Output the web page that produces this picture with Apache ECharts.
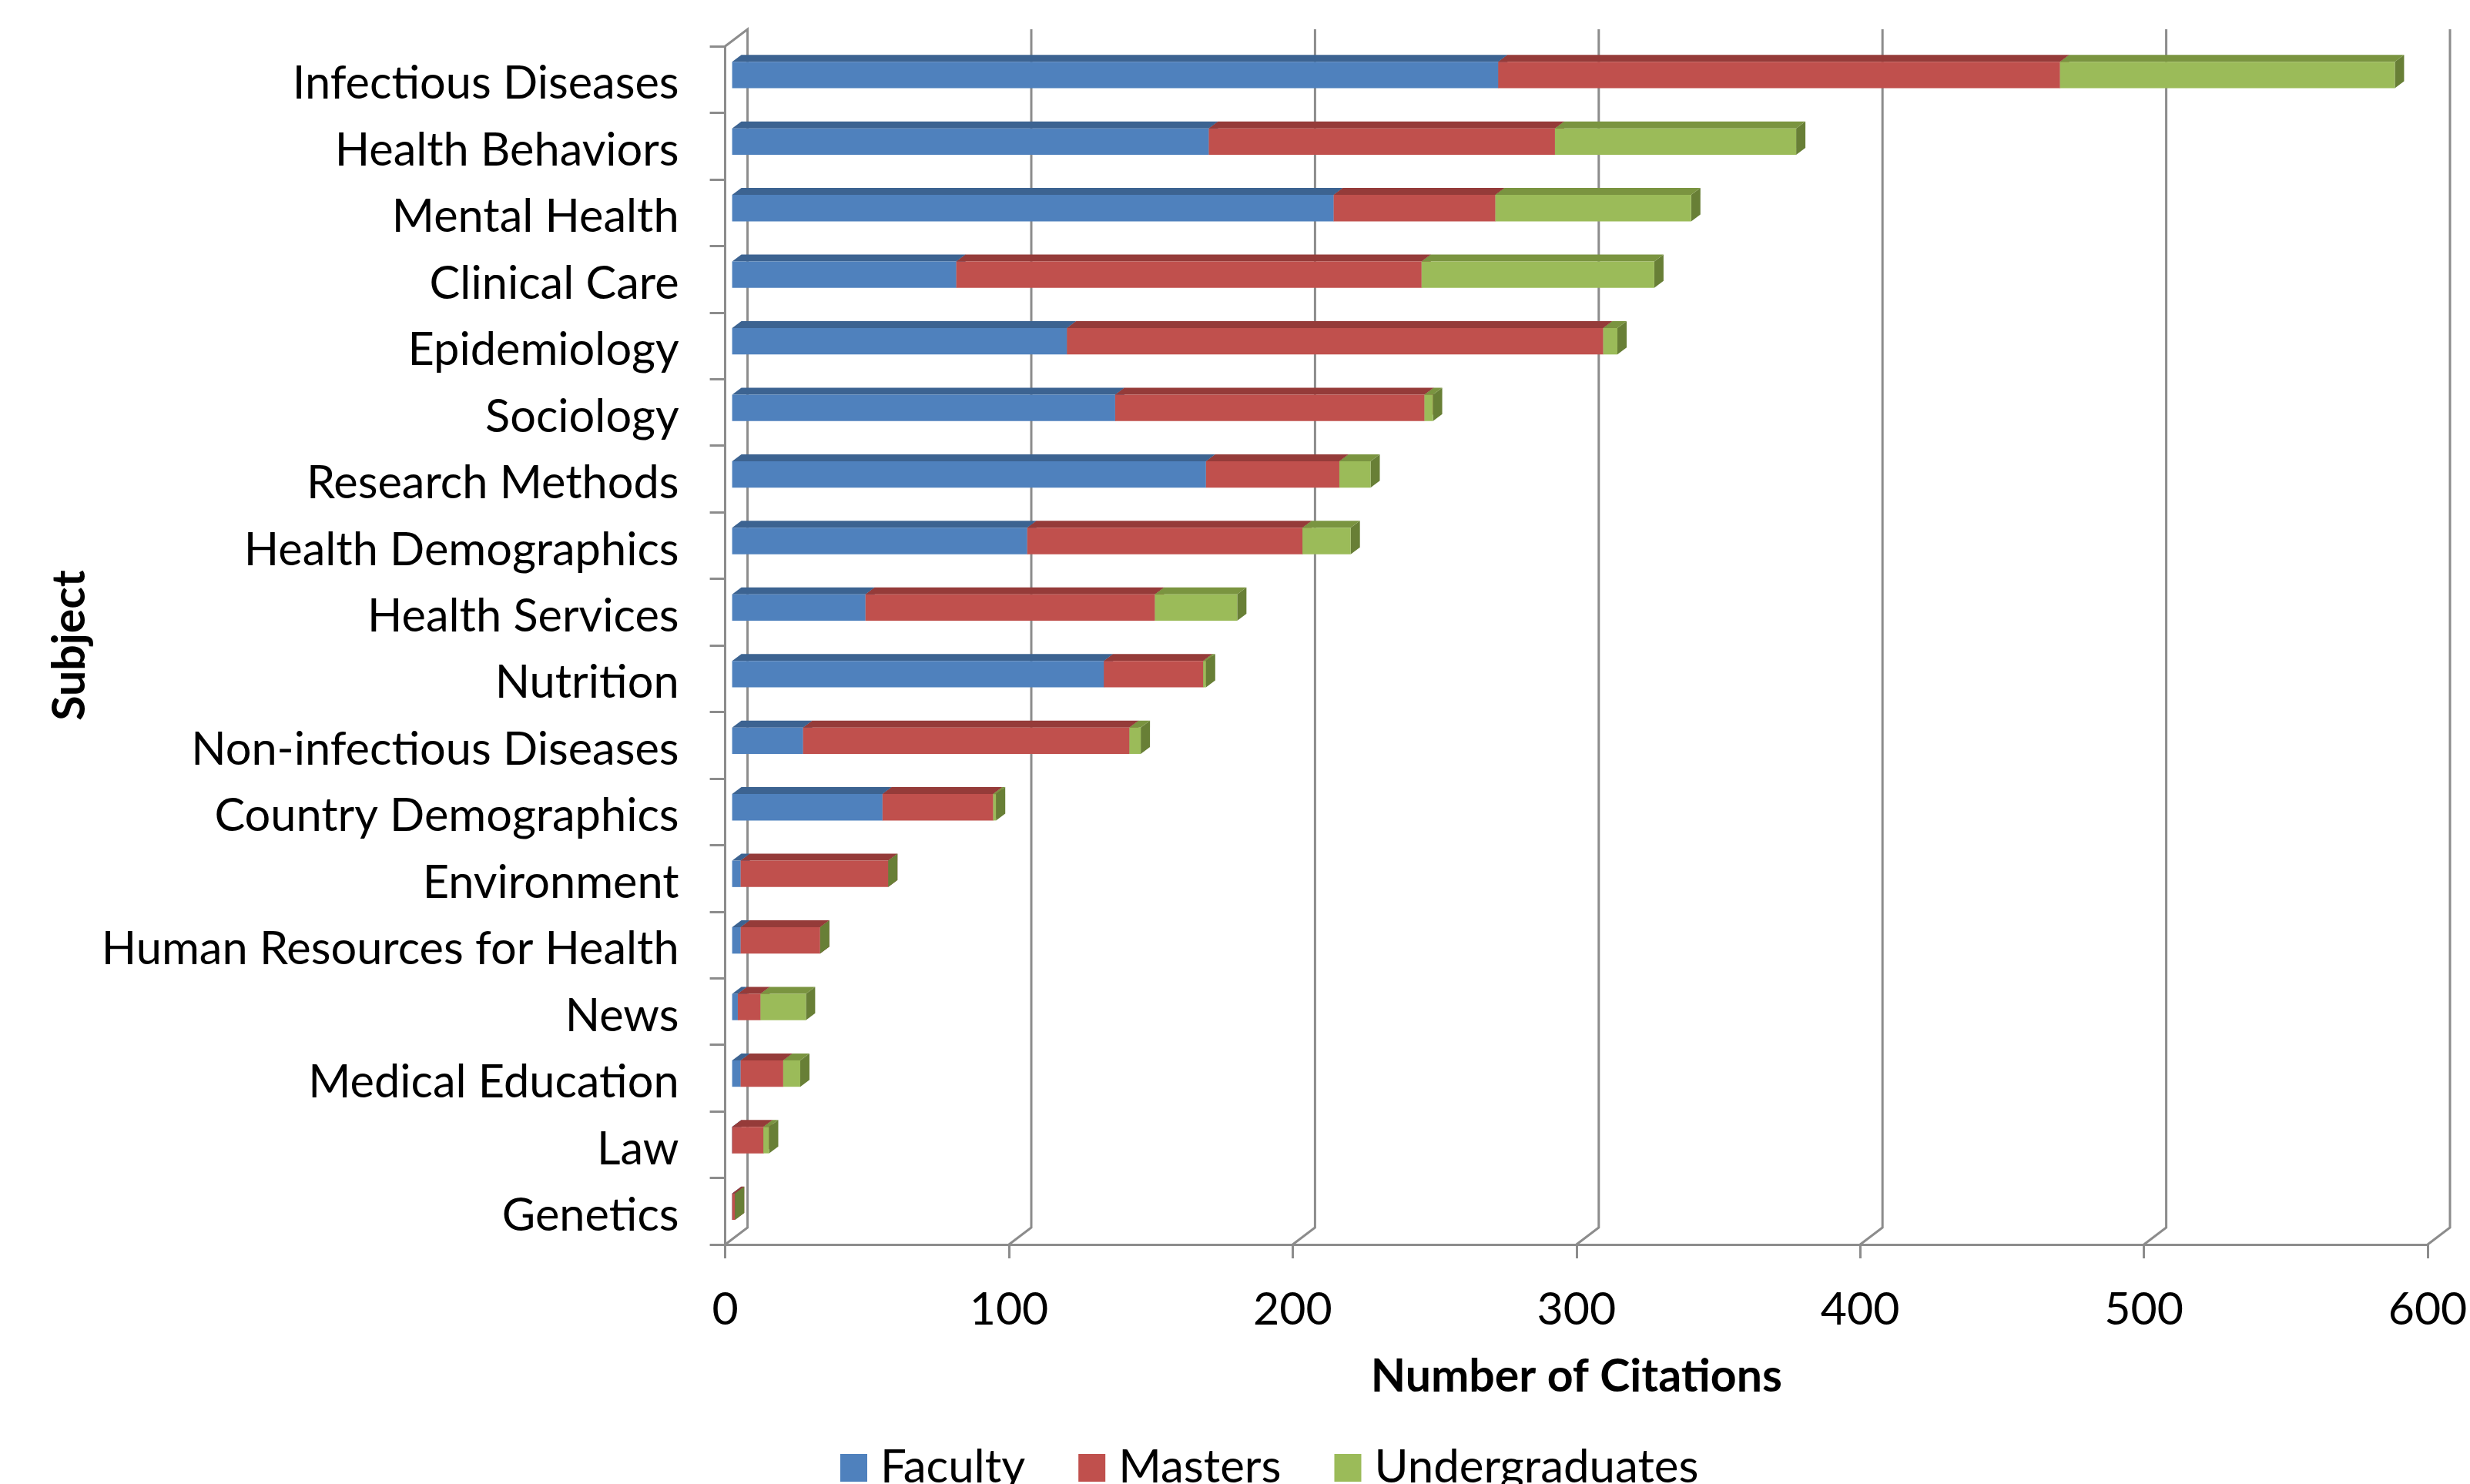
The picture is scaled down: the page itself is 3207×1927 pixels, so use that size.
<!DOCTYPE html>
<html>
<head>
<meta charset="utf-8">
<style>html,body{margin:0;padding:0;background:#fff;overflow:hidden}#c{width:3207px;height:1927px}</style>
<script src="https://cdn.jsdelivr.net/npm/echarts@6/dist/echarts.min.js"></script>
</head>
<body>
<div id="c"></div>
<script>
const categories = ["Infectious Diseases","Health Behaviors","Mental Health","Clinical Care","Epidemiology","Sociology","Research Methods","Health Demographics","Health Services","Nutrition","Non-infectious Diseases","Country Demographics","Environment","Human Resources for Health","News","Medical Education","Law","Genetics"];
const faculty = [270,168,212,79,118,135,167,104,47,131,25,53,3,3,2,3,0,0];
const masters = [198,122,57,164,189,109,47,97,102,35,115,39,52,28,8,15,11,1];
const undergraduates = [118,85,69,82,5,3,11,17,29,1,4,1,0,0,16,6,2,0];
const valueTicks = [0,100,200,300,400,500,600];
const seriesNames = ["Faculty","Masters","Undergraduates"];
const frontColors = ["#4f81bd","#c0504d","#9bbb59"];
const topColors = ["#3c6391","#953b39","#7a9440"];
const sideColors = ["#3a5f8c","#8c3836","#687f36"];

const FONT = 'Lato';
const GRID = {left: 941.6, top: 60, width: 2210.4, height: 1556};
const FRONT_DX = 9, BAR_TOP = -23, BAR_BOTTOM = 11.3, DEPTH_X = 12, DEPTH_Y = 9;
const WALL_DX = 29, WALL_DY = 22;
const LINE = '#8c8c8c';

const stacks = [faculty, masters, undergraduates];
function segments(k) {
  return categories.map((c, i) => {
    let start = 0;
    for (let j = 0; j < k; j++) start += stacks[j][i];
    return [start, start + stacks[k][i], i];
  });
}
function poly(points, fill) {
  return {type: 'polygon', shape: {points}, style: {fill, lineWidth: 0}};
}
const barSeries = seriesNames.map((name, k) => ({
  type: 'custom',
  name,
  coordinateSystem: 'cartesian2d',
  clip: false,
  z: 5 + k,
  itemStyle: {color: frontColors[k]},
  encode: {x: [0, 1], y: 2},
  data: segments(k),
  renderItem(params, api) {
    const a = api.coord([api.value(0), api.value(2)]);
    const b = api.coord([api.value(1), api.value(2)]);
    const x1 = a[0] + FRONT_DX, x2 = b[0] + FRONT_DX;
    const t = a[1] + BAR_TOP, m = a[1] + BAR_BOTTOM;
    return {type: 'group', children: [
      poly([[x2, t], [x2 + DEPTH_X, t - DEPTH_Y], [x2 + DEPTH_X, m - DEPTH_Y], [x2, m]], sideColors[k]),
      poly([[x1, t], [x1 + DEPTH_X, t - DEPTH_Y], [x2 + DEPTH_X, t - DEPTH_Y], [x2, t]], topColors[k]),
      poly([[x1, t], [x2, t], [x2, m], [x1, m]], frontColors[k])
    ]};
  }
}));
const wallSeries = {
  type: 'custom',
  name: 'wall',
  coordinateSystem: 'cartesian2d',
  clip: false,
  silent: true,
  z: 1,
  encode: {x: 0},
  data: valueTicks.map(v => [v, 0]),
  renderItem(params, api) {
    const x = api.coord([api.value(0), 0])[0];
    const cs = params.coordSys;
    const pts = [[x, cs.y + cs.height], [x + WALL_DX, cs.y + cs.height - WALL_DY], [x + WALL_DX, cs.y - WALL_DY]];
    if (api.value(0) === 0) pts.push([x, cs.y]);
    return {type: 'polyline', shape: {points: pts}, style: {stroke: LINE, lineWidth: 3, fill: null}};
  }
};

const chart = echarts.init(document.getElementById('c'), null, {renderer: 'canvas'});
chart.setOption({
  animation: false,
  backgroundColor: '#fff',
  grid: {left: GRID.left, top: GRID.top, width: GRID.width, height: GRID.height, containLabel: false},
  legend: {
    data: seriesNames.map(name => ({name, icon: 'rect'})),
    left: 1086, top: 1871,
    itemWidth: 35, itemHeight: 36, itemGap: 69,
    textStyle: {fontFamily: FONT, fontSize: 60, color: '#000', padding: [0, 0, 0, 12]}
  },
  xAxis: {
    type: 'value', min: 0, max: 600, interval: 100, position: 'bottom',
    name: 'Number of Citations', nameLocation: 'middle', nameGap: 142,
    nameTextStyle: {fontFamily: FONT, fontWeight: 'bold', fontSize: 59, color: '#000'},
    axisLine: {show: true, lineStyle: {color: LINE, width: 3}},
    axisTick: {show: true, length: 18, lineStyle: {color: LINE, width: 3}},
    axisLabel: {fontFamily: FONT, fontSize: 59, color: '#000', margin: 55},
    splitLine: {show: false}
  },
  yAxis: {
    type: 'category', inverse: true, data: categories,
    name: 'Subject', nameLocation: 'middle', nameGap: 821, nameRotate: 90,
    nameTextStyle: {fontFamily: FONT, fontWeight: 'bold', fontSize: 59, color: '#000'},
    axisLine: {show: true, lineStyle: {color: LINE, width: 3}},
    axisTick: {show: true, length: 20, alignWithLabel: false, lineStyle: {color: LINE, width: 3}},
    axisLabel: {fontFamily: FONT, fontSize: 59.5, color: '#000', margin: 60, interval: 0, verticalAlign: 'top', lineHeight: 12},
    splitLine: {show: false}
  },
  series: [wallSeries].concat(barSeries)
});
</script>
</body>
</html>
